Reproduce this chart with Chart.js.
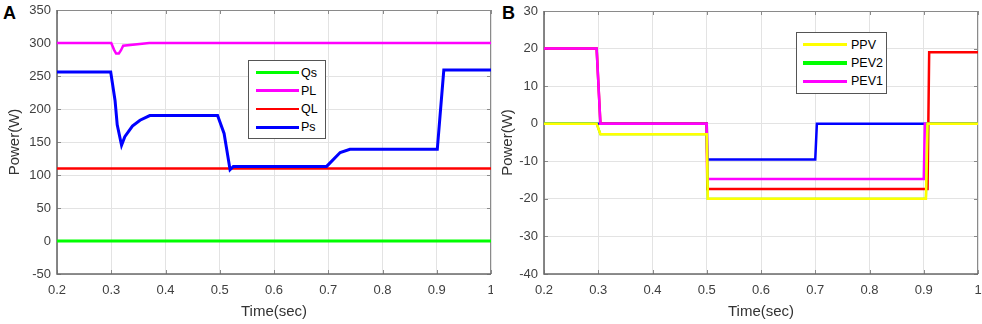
<!DOCTYPE html>
<html>
<head>
<meta charset="utf-8">
<script src="https://cdn.jsdelivr.net/npm/chart.js@4.4.1/dist/chart.umd.min.js"></script>
<style>
  body { margin: 0; background: #fff; width: 982px; height: 324px; overflow: hidden; position: relative; font-family: "Liberation Sans", Arial, sans-serif; }
  .panel { position: absolute; top: 0; height: 324px; }
  .tag { position: absolute; font-weight: bold; font-size: 18px; color: #000; line-height: 1; }
  .legend { position: absolute; border: 1.5px solid #555; background: #fff; box-sizing: border-box; }
  .legend .row { position: absolute; left: 0; height: 16px; }
  .legend .ln { position: absolute; top: 8px; }
  .legend .tx { position: absolute; top: 1px; font-size: 12.5px; color: #000; line-height: 14px; white-space: nowrap; }
</style>
</head>
<body>
<div class="tag" style="left:3px;top:4px;">A</div>
<div class="tag" style="left:502px;top:4px;">B</div>
<div class="panel" style="left:0;width:493px;"><canvas id="chartA"></canvas></div>
<div class="panel" style="left:493px;width:489px;"><canvas id="chartB"></canvas></div>
<div class="legend" id="legendA" style="left:248px;top:60px;width:78px;height:79px;"></div>
<div class="legend" id="legendB" style="left:796px;top:32px;width:91px;height:62px;"></div>
<script>
// ---- panel A : time (s) and power (W) ----
let qsT = [0.2, 1];
let qsP = [0, 0];
let plT = [0.2, 0.3, 0.305, 0.309, 0.314, 0.318, 0.322, 0.37, 1];
let plP = [300, 300, 290, 284, 284, 289, 296, 300, 300];
let qlT = [0.2, 1];
let qlP = [110, 110];
let psT = [0.2, 0.299, 0.307, 0.311, 0.319, 0.325, 0.339, 0.353, 0.371, 0.496, 0.508, 0.519, 0.525, 0.697, 0.722, 0.74, 0.901, 0.913, 1];
let psP = [256, 256, 213, 176, 145, 158, 174, 183, 190, 190, 163, 108, 113, 113, 134, 139, 139, 259, 259];

// ---- panel B ----
let ppvT = [0.2, 0.297, 0.304, 0.5, 0.502, 0.904, 0.907, 1];
let ppvP = [0, 0, -2.8, -2.8, -20, -20, 0, 0];
let pev2T = [0.2, 0.297, 0.304, 0.5, 0.502, 0.904, 0.907, 1];
let pev2P = [0, 0, -2.8, -2.8, -20, -20, 0, 0];
let pev1T = [0.2, 0.297, 0.304, 0.5, 0.501, 0.9, 0.902, 1];
let pev1P = [20, 20, 0, 0, -14.7, -14.7, 0, 0];
let redT = [0.2, 0.297, 0.304, 0.5, 0.501, 0.907, 0.91, 1];
let redP = [20, 20, 0, 0, -17.4, -17.4, 19, 19];
let blueT = [0.2, 0.5, 0.501, 0.7, 0.703, 1];
let blueP = [0, 0, -9.5, -9.5, 0, 0];

let xTicks = [0.2, 0.3, 0.4, 0.5, 0.6, 0.7, 0.8, 0.9, 1];

function pts(t, p) {
  return t.map((v, i) => ({ x: v, y: p[i] }));
}

function line(label, t, p, color, w, legendW) {
  return { label: label, data: pts(t, p), borderColor: color, borderWidth: w, legendWidth: legendW || w, pointRadius: 0, tension: 0, fill: false };
}

//枠と内向きの目盛り
const boxPlugin = {
  id: "box",
  beforeDatasetsDraw(chart) {
    const { ctx, chartArea: a, scales } = chart;
    ctx.save();
    ctx.strokeStyle = "#8a8a8a";
    ctx.lineWidth = 1;
    ctx.beginPath();
    scales.x.ticks.forEach((t) => {
      const px = Math.round(scales.x.getPixelForValue(t.value)) + 0.5;
      ctx.moveTo(px, a.bottom); ctx.lineTo(px, a.bottom - 4);
      ctx.moveTo(px, a.top); ctx.lineTo(px, a.top + 4);
    });
    scales.y.ticks.forEach((t) => {
      const py = Math.round(scales.y.getPixelForValue(t.value)) + 0.5;
      ctx.moveTo(a.left, py); ctx.lineTo(a.left + 4, py);
      ctx.moveTo(a.right, py); ctx.lineTo(a.right - 4, py);
    });
    ctx.moveTo(a.left, a.top + 0.5); ctx.lineTo(a.right, a.top + 0.5);
    ctx.moveTo(a.right - 0.5, a.top); ctx.lineTo(a.right - 0.5, a.bottom);
    ctx.stroke();
    ctx.strokeStyle = "#6a6a6a";
    ctx.lineWidth = 1.6;
    ctx.beginPath();
    ctx.moveTo(a.left, a.top); ctx.lineTo(a.left, a.bottom); ctx.lineTo(a.right, a.bottom);
    ctx.stroke();
    ctx.restore();
  },
};

function makeOptions(yMin, yMax, yStep, yWidth, padTop, padRight) {
  return {
    animation: false,
    responsive: true,
    maintainAspectRatio: false,
    layout: { padding: { top: padTop, right: padRight, left: 0, bottom: 0 } },
    plugins: { legend: { display: false }, tooltip: { enabled: false } },
    scales: {
      x: {
        type: "linear",
        min: 0.2,
        max: 1,
        afterBuildTicks: (s) => { s.ticks = xTicks.map((v) => ({ value: v })); },
        afterFit: (s) => { s.height = 50; s.paddingLeft = 0; s.paddingRight = 0; },
        grid: { color: "#e3e3e3", drawTicks: false },
        border: { display: false },
        ticks: {
          padding: 9,
          color: "#404040",
          font: { family: "Liberation Sans", size: 13 },
          callback: (v) => String(Math.round(v * 10) / 10),
          maxRotation: 0,
          autoSkip: false,
        },
        title: {
          display: true,
          text: "Time(sec)",
          color: "#333",
          font: { family: "Liberation Sans", size: 15 },
          padding: { top: 0, bottom: 3 },
        },
      },
      y: {
        min: yMin,
        max: yMax,
        afterFit: (s) => { s.width = yWidth; s.paddingTop = 0; s.paddingBottom = 0; },
        grid: { color: "#e3e3e3", drawTicks: false },
        border: { display: false },
        ticks: {
          stepSize: yStep,
          padding: 6,
          color: "#404040",
          font: { family: "Liberation Sans", size: 13 },
        },
        title: {
          display: true,
          text: "Power(W)",
          color: "#333",
          font: { family: "Liberation Sans", size: 15 },
          padding: { top: 6, bottom: 0 },
        },
      },
    },
  };
}

function buildLegend(id, datasets, count, lineW, textX) {
  let box = document.getElementById(id);
  let rowH = id === "legendA" ? 18.2 : 18.4;
  let top0 = 3.5;
  datasets.slice(0, count).forEach((d, i) => {
    let row = document.createElement("div");
    row.className = "row";
    row.style.top = top0 + i * rowH + "px";
    let ln = document.createElement("div");
    ln.className = "ln";
    ln.style.left = (id === "legendA" ? 7 : 6) + "px";
    ln.style.width = lineW + "px";
    ln.style.height = d.legendWidth + "px";
    ln.style.marginTop = -d.legendWidth / 2 + "px";
    ln.style.background = d.borderColor;
    let tx = document.createElement("div");
    tx.className = "tx";
    tx.style.left = textX + "px";
    tx.textContent = d.label;
    row.appendChild(ln);
    row.appendChild(tx);
    box.appendChild(row);
  });
}

let dataA = {
  datasets: [
    line("Qs", qsT, qsP, "#00ff00", 3),
    line("PL", plT, plP, "#ff00ff", 2.5),
    line("QL", qlT, qlP, "#ff0000", 2.5),
    Object.assign(line("Ps", psT, psP, "#0000ff", 3), { order: -1 }),
  ],
};

let dataB = {
  datasets: [
    line("PPV", ppvT, ppvP, "#ffff00", 2.5, 2.5),
    line("PEV2", pev2T, pev2P, "#00ff00", 2.2, 3.5),
    line("PEV1", pev1T, pev1P, "#ff00ff", 2.5),
    line("PL", redT, redP, "#ff0000", 2.5),
    line("Ps", blueT, blueP, "#0000ff", 2.5),
  ],
};

let chartA = new Chart(document.getElementById("chartA").getContext("2d"), {
  type: "line",
  data: dataA,
  options: makeOptions(-50, 350, 50, 57, 10, 2),
  plugins: [boxPlugin],
});

let chartB = new Chart(document.getElementById("chartB").getContext("2d"), {
  type: "line",
  data: dataB,
  options: makeOptions(-40, 30, 10, 51, 11, 4),
  plugins: [boxPlugin],
});

buildLegend("legendA", dataA.datasets, 4, 43, 52);
buildLegend("legendB", dataB.datasets, 3, 44, 54);
</script>
</body>
</html>
